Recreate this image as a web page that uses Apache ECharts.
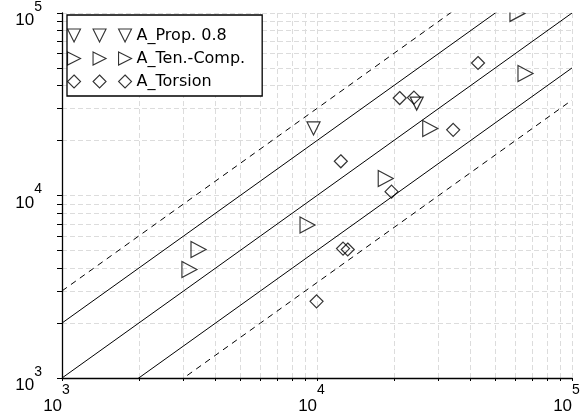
<!DOCTYPE html>
<html>
<head>
<meta charset="utf-8">
<script src="https://cdn.jsdelivr.net/npm/echarts@6/dist/echarts.min.js"></script>
<style>
html,body{margin:0;padding:0;background:#fff;}
#chart{width:582px;height:418px;}
</style>
</head>
<body>
<div id="chart"></div>
<script>
// ---- data ----
const seriesNames = ['A_Prop. 0.8', 'A_Ten.-Comp.', 'A_Torsion'];
const propData = [[9690, 23300], [24600, 31900]];
const tenCompData = [[3160, 3930], [3430, 5060], [9180, 6890], [18600, 12400], [27800, 23300], [65700, 46600], [61100, 99500]];
const torsionData = [[12400, 15400], [19600, 10500], [12650, 5120], [13200, 5060], [9960, 2630], [21100, 34200], [24000, 34400], [42800, 53200], [34200, 22900]];
// guide lines y = k * x
const solidFactors = [2, 1, 0.5];
const dashedFactors = [3, 1 / 3];
const lineXRange = [1000, 100000];
// ticks
const labelValues = [1000, 10000, 100000];
const tickValues = [1000, 2000, 3000, 4000, 5000, 6000, 7000, 8000, 9000,
  10000, 20000, 30000, 40000, 50000, 60000, 70000, 80000, 90000, 100000];

// ---- chart ----
const chart = echarts.init(document.getElementById('chart'), null, {renderer: 'canvas'});

function expLabel(v) {
  const e = Math.round(Math.log10(v));
  return '{b|10}{e|' + e + '}';
}

function guideSeries(k, dashed) {
  return {
    type: 'line',
    data: lineXRange.map(x => [x, k * x]),
    symbol: 'none',
    silent: true,
    clip: true,
    z: 1,
    lineStyle: {color: '#000', width: 1, type: dashed ? [6, 5] : 'solid'}
  };
}

const markerStyle = {color: 'rgba(0,0,0,0)', borderColor: '#000', borderWidth: 1.2};

const axisCommon = {
  type: 'log',
  logBase: 10,
  min: 1000,
  max: 100000,
  axisLine: {show: true, lineStyle: {color: '#000', width: 1.3}},
  splitLine: {show: true, lineStyle: {color: '#dcdcdc', width: 1, type: [5, 3]}},
  minorTick: {show: false},
  minorSplitLine: {show: false}
};

const option = {
  animation: false,
  backgroundColor: '#fff',
  grid: {left: 62, right: 10, top: 13, bottom: 40, containLabel: false, outerBoundsMode: 'none'},
  xAxis: Object.assign({}, axisCommon, {
    axisTick: {show: true, inside: false, length: 3, customValues: tickValues, lineStyle: {color: '#000'}},
    axisLabel: {
      customValues: labelValues,
      formatter: expLabel,
      margin: 5,
      align: 'center',
      padding: [0, 11, 0, 0],
      color: '#000',
      fontFamily: 'Liberation Sans',
      rich: {
        b: {fontSize: 17, lineHeight: 47, fontFamily: 'Liberation Sans', color: '#000'},
        e: {fontSize: 14, lineHeight: 14, verticalAlign: 'top', fontFamily: 'Liberation Sans', color: '#000'}
      }
    }
  }),
  yAxis: Object.assign({}, axisCommon, {
    axisTick: {show: true, inside: false, length: 5, customValues: tickValues, lineStyle: {color: '#000'}},
    axisLabel: {
      customValues: labelValues,
      formatter: expLabel,
      margin: 20,
      padding: [15.6, 0, 0, 0],
      color: '#000',
      fontFamily: 'Liberation Sans',
      rich: {
        b: {fontSize: 17, lineHeight: 42, fontFamily: 'Liberation Sans', color: '#000'},
        e: {fontSize: 14, lineHeight: 14, verticalAlign: 'top', fontFamily: 'Liberation Sans', color: '#000'}
      }
    }
  }),
  legend: {
    data: [
      {name: seriesNames[0], icon: 'path://M0,0L13,0L6.5,13ZM25.5,0L38.5,0L32,13ZM51,0L64,0L57.5,13Z'},
      {name: seriesNames[1], icon: 'path://M0,0L13,6.5L0,13ZM25.5,0L38.5,6.5L25.5,13ZM51,0L64,6.5L51,13Z'},
      {name: seriesNames[2], icon: 'path://M6.5,0L13,6.5L6.5,13L0,6.5ZM32,0L38.5,6.5L32,13L25.5,6.5ZM57.5,0L64,6.5L57.5,13L51,6.5Z'}
    ],
    orient: 'vertical',
    left: 67,
    top: 15,
    itemWidth: 64,
    itemHeight: 13,
    itemGap: 7,
    itemTextGap: 3,
    padding: [12.5, 17, 6.5, 0],
    backgroundColor: '#fff',
    borderColor: '#000',
    borderWidth: 1.3,
    borderRadius: 0,
    selectedMode: false,
    itemStyle: {color: 'rgba(0,0,0,0)', borderColor: '#000', borderWidth: 1.1},
    textStyle: {fontFamily: 'DejaVu Sans', fontSize: 16, lineHeight: 15, color: '#000'}
  },
  graphic: [
    {type: 'rect', left: 480, top: 0, shape: {width: 102, height: 12.4}, style: {fill: '#fff'}, z: 100, silent: true}
  ],
  series: [
    ...solidFactors.map(k => guideSeries(k, false)),
    ...dashedFactors.map(k => guideSeries(k, true)),
    {name: seriesNames[0], type: 'scatter', data: propData, symbol: 'path://M0,0L10,0L5,10Z', symbolSize: [13, 13], itemStyle: markerStyle, z: 3},
    {name: seriesNames[1], type: 'scatter', data: tenCompData, symbol: 'path://M0,0L10,5L0,10Z', symbolSize: [15, 16], itemStyle: markerStyle, z: 3},
    {name: seriesNames[2], type: 'scatter', data: torsionData, symbol: 'diamond', symbolSize: [13, 13], itemStyle: markerStyle, z: 3}
  ]
};

chart.setOption(option);
</script>
</body>
</html>
